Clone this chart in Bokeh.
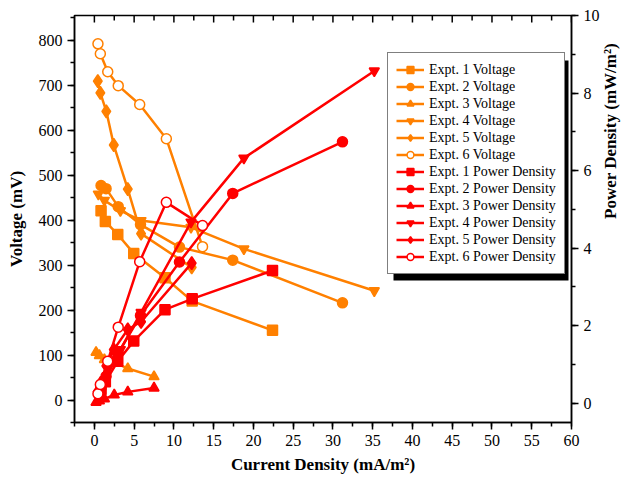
import math
from bokeh.plotting import figure
from bokeh.models import (Range1d, LinearAxis, Legend, LegendItem, BoxAnnotation,
                          SingleIntervalTicker)
from bokeh.embed import file_html
from bokeh.resources import INLINE

# ---------------- data ----------------
cd_1 = [0.84, 1.38, 2.94, 4.95, 8.88, 12.3, 22.4]
v_1 = [421, 397, 368, 326, 272, 220, 155]
p_1 = [0.35, 0.55, 1.08, 1.60, 2.41, 2.69, 3.42]

cd_2 = [0.84, 1.47, 3.0, 5.8, 10.7, 17.4, 31.2]
v_2 = [477, 470, 430, 390, 340, 311, 216]
p_2 = [0.40, 0.69, 1.29, 2.26, 3.64, 5.41, 6.74]

cd_3 = [0.21, 0.63, 1.26, 2.5, 4.2, 7.5]
v_3 = [106, 99, 90, 84, 70, 52]
p_3 = [0.02, 0.06, 0.11, 0.21, 0.29, 0.39]

cd_4 = [0.5, 1.26, 3.27, 5.87, 12.15, 18.8, 35.2]
v_4 = [458, 444, 421, 399, 384, 336, 243]
p_4 = [0.23, 0.56, 1.38, 2.34, 4.67, 6.32, 8.57]

cd_5 = [0.43, 0.75, 1.5, 2.44, 4.2, 5.87, 12.24]
v_5 = [709, 683, 642, 567, 469, 370, 295]
p_5 = [0.30, 0.51, 0.96, 1.38, 1.90, 2.10, 3.61]

cd_6 = [0.45, 0.75, 1.68, 3.0, 5.7, 9.05, 13.6]
v_6 = [792, 770, 730, 699, 657, 581, 341]
p_6 = [0.24, 0.48, 1.08, 1.96, 3.65, 5.18, 4.58]

experiments = ["Expt. 1", "Expt. 2", "Expt. 3", "Expt. 4", "Expt. 5", "Expt. 6"]
markers = ["square", "circle", "triangle", "inverted_triangle", "diamond", "circle"]
open_marker = [False, False, False, False, False, True]
x_data = [cd_1, cd_2, cd_3, cd_4, cd_5, cd_6]
v_data = [v_1, v_2, v_3, v_4, v_5, v_6]
p_data = [p_1, p_2, p_3, p_4, p_5, p_6]

ORANGE = "#FF8000"
RED = "#FF0000"
FONT = "Liberation Serif"

X0, X1 = -2.5, 60
Y0, Y1 = -50, 855
P0, P1 = -0.5, 10
FW, FH = 497, 407

p = figure(frame_width=FW, frame_height=FH,
           x_range=Range1d(X0, X1), y_range=Range1d(Y0, Y1),
           output_backend="svg", toolbar_location=None,
           min_border_left=74, min_border_top=15, min_border_right=50,
           min_border_bottom=51, background_fill_color="white",
           border_fill_color="white")
p.extra_y_ranges = {"power": Range1d(P0, P1)}
p.grid.visible = False
p.outline_line_color = "black"
p.outline_line_width = 1.5

def style_axis(ax):
    ax.axis_line_color = "black"
    ax.axis_line_width = 1.5
    ax.major_tick_line_width = 1.5
    ax.minor_tick_line_width = 1.5
    ax.major_tick_out = 7
    ax.major_tick_in = 0
    ax.minor_tick_out = 4
    ax.minor_tick_in = 0
    ax.major_label_text_font = FONT
    ax.major_label_text_font_size = "16px"
    ax.major_label_text_color = "black"
    ax.axis_label_text_font = FONT
    ax.axis_label_text_font_size = "17px"
    ax.axis_label_text_font_style = "bold"
    ax.axis_label_text_color = "black"

xa = p.xaxis[0]
xa.ticker = SingleIntervalTicker(interval=5, num_minor_ticks=2)
xa.axis_label = "Current Density (mA/m²)"
style_axis(xa)
xa.axis_label_standoff = 6

ya = p.yaxis[0]
ya.ticker = SingleIntervalTicker(interval=100, num_minor_ticks=2)
ya.axis_label = "Voltage (mV)"
style_axis(ya)
ya.axis_label_standoff = 10

ra = LinearAxis(y_range_name="power", axis_label="Power Density (mW/m²)",
                ticker=SingleIntervalTicker(interval=2, num_minor_ticks=2))
style_axis(ra)
ra.axis_label_standoff = 8
ra.axis_label_orientation = math.pi / 2
p.add_layout(ra, "right")

# inward ticks along the top edge of the frame (mirror of the x axis)
tick_x, tick_y0, tick_y1 = [], [], []
px_per_y = FH / (Y1 - Y0)
k = 0
xv = 0.0
while xv <= X1 + 1e-9:
    length = 7 if k % 2 == 0 else 5
    tick_x.append(xv)
    tick_y0.append(Y1)
    tick_y1.append(Y1 - length / px_per_y)
    k += 1
    xv += 2.5
p.segment(x0=tick_x, y0=tick_y0, x1=tick_x, y1=tick_y1, line_color="black", line_width=1.5)

v_items = []
p_items = []
for i in range(6):
    fill = "white" if open_marker[i] else ORANGE
    ln = p.line(x_data[i], v_data[i], line_color=ORANGE, line_width=2.5)
    sc = p.scatter(x_data[i], v_data[i], marker=markers[i], size=10 if markers[i] != "diamond" else 13,
                   fill_color=fill, line_color=ORANGE, line_width=1.5)
    v_items.append(LegendItem(label=experiments[i] + " Voltage", renderers=[ln, sc]))
for i in range(6):
    fill = "white" if open_marker[i] else RED
    ln = p.line(x_data[i], p_data[i], line_color=RED, line_width=2.5, y_range_name="power")
    sc = p.scatter(x_data[i], p_data[i], marker=markers[i], size=10 if markers[i] != "diamond" else 13,
                   fill_color=fill, line_color=RED, line_width=1.5, y_range_name="power")
    p_items.append(LegendItem(label=experiments[i] + " Power Density", renderers=[ln, sc]))

# legend geometry (screen px relative to the frame)
PAD, ROW, SPC, GW, STAND, TEXTW = 8, 17, 0, 28, 5, 126
n_items = 12
leg_left, leg_top = 313, 39
leg_h = 2 * PAD + n_items * ROW + (n_items - 1) * SPC
leg_w = 2 * PAD + GW + STAND + TEXTW

def px_to_x(px):
    return X0 + px * (X1 - X0) / FW

def py_to_y(py_from_top):
    return Y1 - py_from_top * (Y1 - Y0) / FH

off = 6
shadow = BoxAnnotation(left=px_to_x(leg_left + off), right=px_to_x(leg_left + leg_w + off),
                       top=py_to_y(leg_top + off), bottom=py_to_y(leg_top + leg_h + off),
                       fill_color="black", fill_alpha=1.0, line_color=None)
p.add_layout(shadow)

legend = Legend(items=v_items + p_items, location=(leg_left, FH - leg_top - leg_h))
legend.label_text_font = FONT
legend.label_text_font_size = "14px"
legend.label_text_color = "black"
legend.label_height = ROW
legend.glyph_height = ROW
legend.glyph_width = GW
legend.spacing = SPC
legend.padding = PAD
legend.margin = 0
legend.label_standoff = STAND
legend.border_line_color = "black"
legend.border_line_width = 1
legend.background_fill_color = "white"
legend.background_fill_alpha = 1.0
p.add_layout(legend, "center")

open("out.html", "w").write(file_html(p, INLINE))
